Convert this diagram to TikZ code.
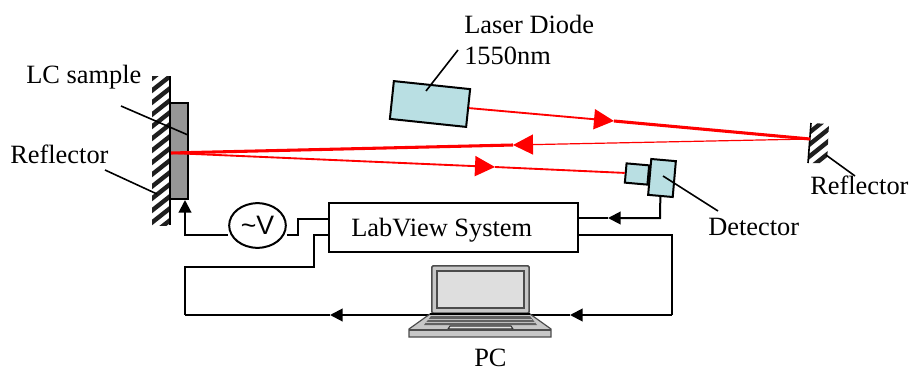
\documentclass[tikz,border=0pt]{standalone}
\usepackage{fontspec}
\setmainfont{Liberation Serif}
\setsansfont{Liberation Sans}
\usetikzlibrary{arrows.meta,calc,shapes.geometric}
\definecolor{cyanbox}{HTML}{B9DFE3}
\tikzset{
  wire/.style={line width=1.5pt,black},
  leader/.style={line width=1.2pt,black},
  wirearrow/.style={wire,-{Triangle[length=9.5pt,width=9.5pt]}},
  beamthin/.style={line width=1.4pt,red},
  beamhair/.style={line width=0.9pt,red},
  beamthick/.style={line width=2.3pt,red},
  beamarrow/.style={-{Triangle[length=15pt,width=15pt]}},
  label/.style={inner sep=0pt,anchor=base west,font=\fontsize{19.8pt}{22pt}\selectfont,text=black},
  optic/.style={draw=black,line width=1.5pt,fill=cyanbox,inner sep=0pt,rotate=-5},
  stripe/.style={line width=3.3pt,black!88}
}
\begin{document}
\begin{tikzpicture}[x=0.75pt,y=-0.75pt]
\useasboundingbox (0,0) rectangle (910,371);
% left reflector
\begin{scope}
\clip (152,76) rectangle (170,225);
\foreach \k in {0,...,14}{\draw[stripe] (145,{72+\k*12}) -- (178,{72+\k*12-26});}
\end{scope}
\coordinate (mleft) at (170,76);
\coordinate (mleftb) at (170,225);
\draw[line width=1.5pt] (mleft) -- (mleftb);
\node[draw=black,line width=1.8pt,fill=black!41,minimum width=13.5pt,minimum height=72pt,inner sep=0pt] (sample) at (179,151) {};
% right reflector
\begin{scope}
\clip (811,123) -- (829,124) -- (827,163) -- (808,163) -- cycle;
\foreach \k in {0,...,6}{\draw[stripe] (800,{128+\k*12}) -- (835,{128+\k*12-28});}
\end{scope}
\coordinate (mra) at (811,123);
\coordinate (mrb) at (808,163);
\draw[line width=1.2pt] (mra) -- (mrb);
% optics
\node[optic,rotate=-1,minimum width=57.5pt,minimum height=28.5pt] (laser) at (430,104) {};
\node[optic,minimum width=17pt,minimum height=14.5pt] (detsmall) at (637,174) {};
\node[optic,minimum width=18.5pt,minimum height=27pt] (detbig) at (662,178) {};
% beams
\coordinate (hit) at (171,153);
\coordinate (a1) at (614,121);
\coordinate (rhit) at (810,139);
\coordinate (a2) at (513,145);
\coordinate (a3) at (495,167);
\draw[beamthin,beamarrow] (laser.east) -- (a1);
\draw[beamthick] (a1) -- (rhit);
\draw[beamhair,beamarrow] (rhit) -- (a2);
\draw[beamthick] (a2) -- (hit);
\draw[beamthin,beamarrow] (hit) -- (a3);
\draw[beamthin] (a3) -- (detsmall.west);
% electronics
\node[draw=black,line width=1.5pt,minimum width=186.5pt,minimum height=36.5pt,inner sep=0pt] (lab) at (453.5,227.5) {};
\node[label] (labt) at (351,236) {LabView System};
\node[draw=black,line width=1.5pt,ellipse,minimum width=42.5pt,minimum height=33.5pt,inner sep=0pt,font=\sffamily\fontsize{20pt}{22pt}\selectfont] (volt) at (257.5,225.5) {\string~V};
\coordinate (p1) at (185,234.5);
\coordinate (sampleb) at (185,200);
\coordinate (v2) at (298,234.5);
\coordinate (v3) at (298,219);
\coordinate (v4) at (329,219);
\draw[wirearrow] (volt.west |- p1) -- (p1) -- (sampleb);
\draw[wire] (volt.east |- p1) -- (v2) -- (v3) -- (v4);
\coordinate (corner1) at (185,315);
\coordinate (corner2) at (672,315);
\coordinate (a4) at (330,315);
\coordinate (a5) at (570,315);
\coordinate (b1) at (329,235);
\coordinate (b2) at (314,235);
\coordinate (b3) at (314,267);
\coordinate (b4) at (185,267);
\coordinate (c1) at (578,235);
\coordinate (c2) at (672,235);
\draw[wire] (b1) -- (b2) -- (b3) -- (b4) -- (corner1);
\draw[wire] (c1) -- (c2) -- (corner2);
\draw[wirearrow] (corner2) -- (a5);
\draw[wirearrow] (a5) -- (a4);
\draw[wire] (a4) -- (corner1);
\coordinate (a6) at (608,218);
\coordinate (d1) at (660,218);
\coordinate (d2) at (578,218);
\draw[wirearrow] (detbig.south) -- (d1) -- (a6);
\draw[wire] (a6) -- (d2);
% laptop
\fill[white] (430,312) rectangle (440,316);
\node[draw=black!70,line width=1.1pt,fill=black!22,rounded corners=1pt,minimum width=73pt,minimum height=35.5pt,inner sep=0pt] (lid) at (480.5,289.5) {};
\node[draw=black!70,line width=1.1pt,fill=black!13,minimum width=65pt,minimum height=27.5pt,inner sep=0pt] (screen) at (480.5,289.5) {};
\draw[black!70,line width=0.9pt,fill=black!22] (430,314) -- (530,314) -- (551,329) -- (551,337) -- (409,337) -- (409,329) -- cycle;
\fill[black!62] (431,316) -- (530,316) -- (537,325) -- (424,325) -- cycle;
\draw[black!25,line width=0.6pt] (428,319) -- (532,319) (426,322) -- (535,322);
\draw[line width=1.6pt] (430,314) -- (530,314);
\draw[black!80,line width=0.8pt,fill=black!10] (450,326) -- (511,326) -- (513,329) -- (448,329) -- cycle;
\draw[black!70,line width=0.8pt] (409,330) -- (551,330);
% labels
\node[label] (tlaser) at (464,33) {Laser Diode};
\node[label] (t1550) at (464,64) {1550nm};
\node[label] (tlc) at (26,83) {LC sample};
\node[label] (trl) at (10,163) {Reflector};
\node[label] (trr) at (810,194) {Reflector};
\node[label] (tdet) at (708,235) {Detector};
\node[label] (tpc) at (474,366.5) {PC};
% leaders
\coordinate (l1a) at (458,50); \coordinate (l1b) at (426,91);
\coordinate (l2a) at (121,106); \coordinate (l2b) at (188,135);
\coordinate (l3a) at (105,170); \coordinate (l3b) at (157,194);
\coordinate (l4a) at (826,155); \coordinate (l4b) at (855,176);
\coordinate (l5a) at (663,176); \coordinate (l5b) at (718,211);
\draw[leader] (l1a) -- (l1b);
\draw[leader] (l2a) -- (l2b);
\draw[leader] (l3a) -- (l3b);
\draw[leader] (l4a) -- (l4b);
\draw[leader] (l5a) -- (l5b);
\end{tikzpicture}
\end{document}
